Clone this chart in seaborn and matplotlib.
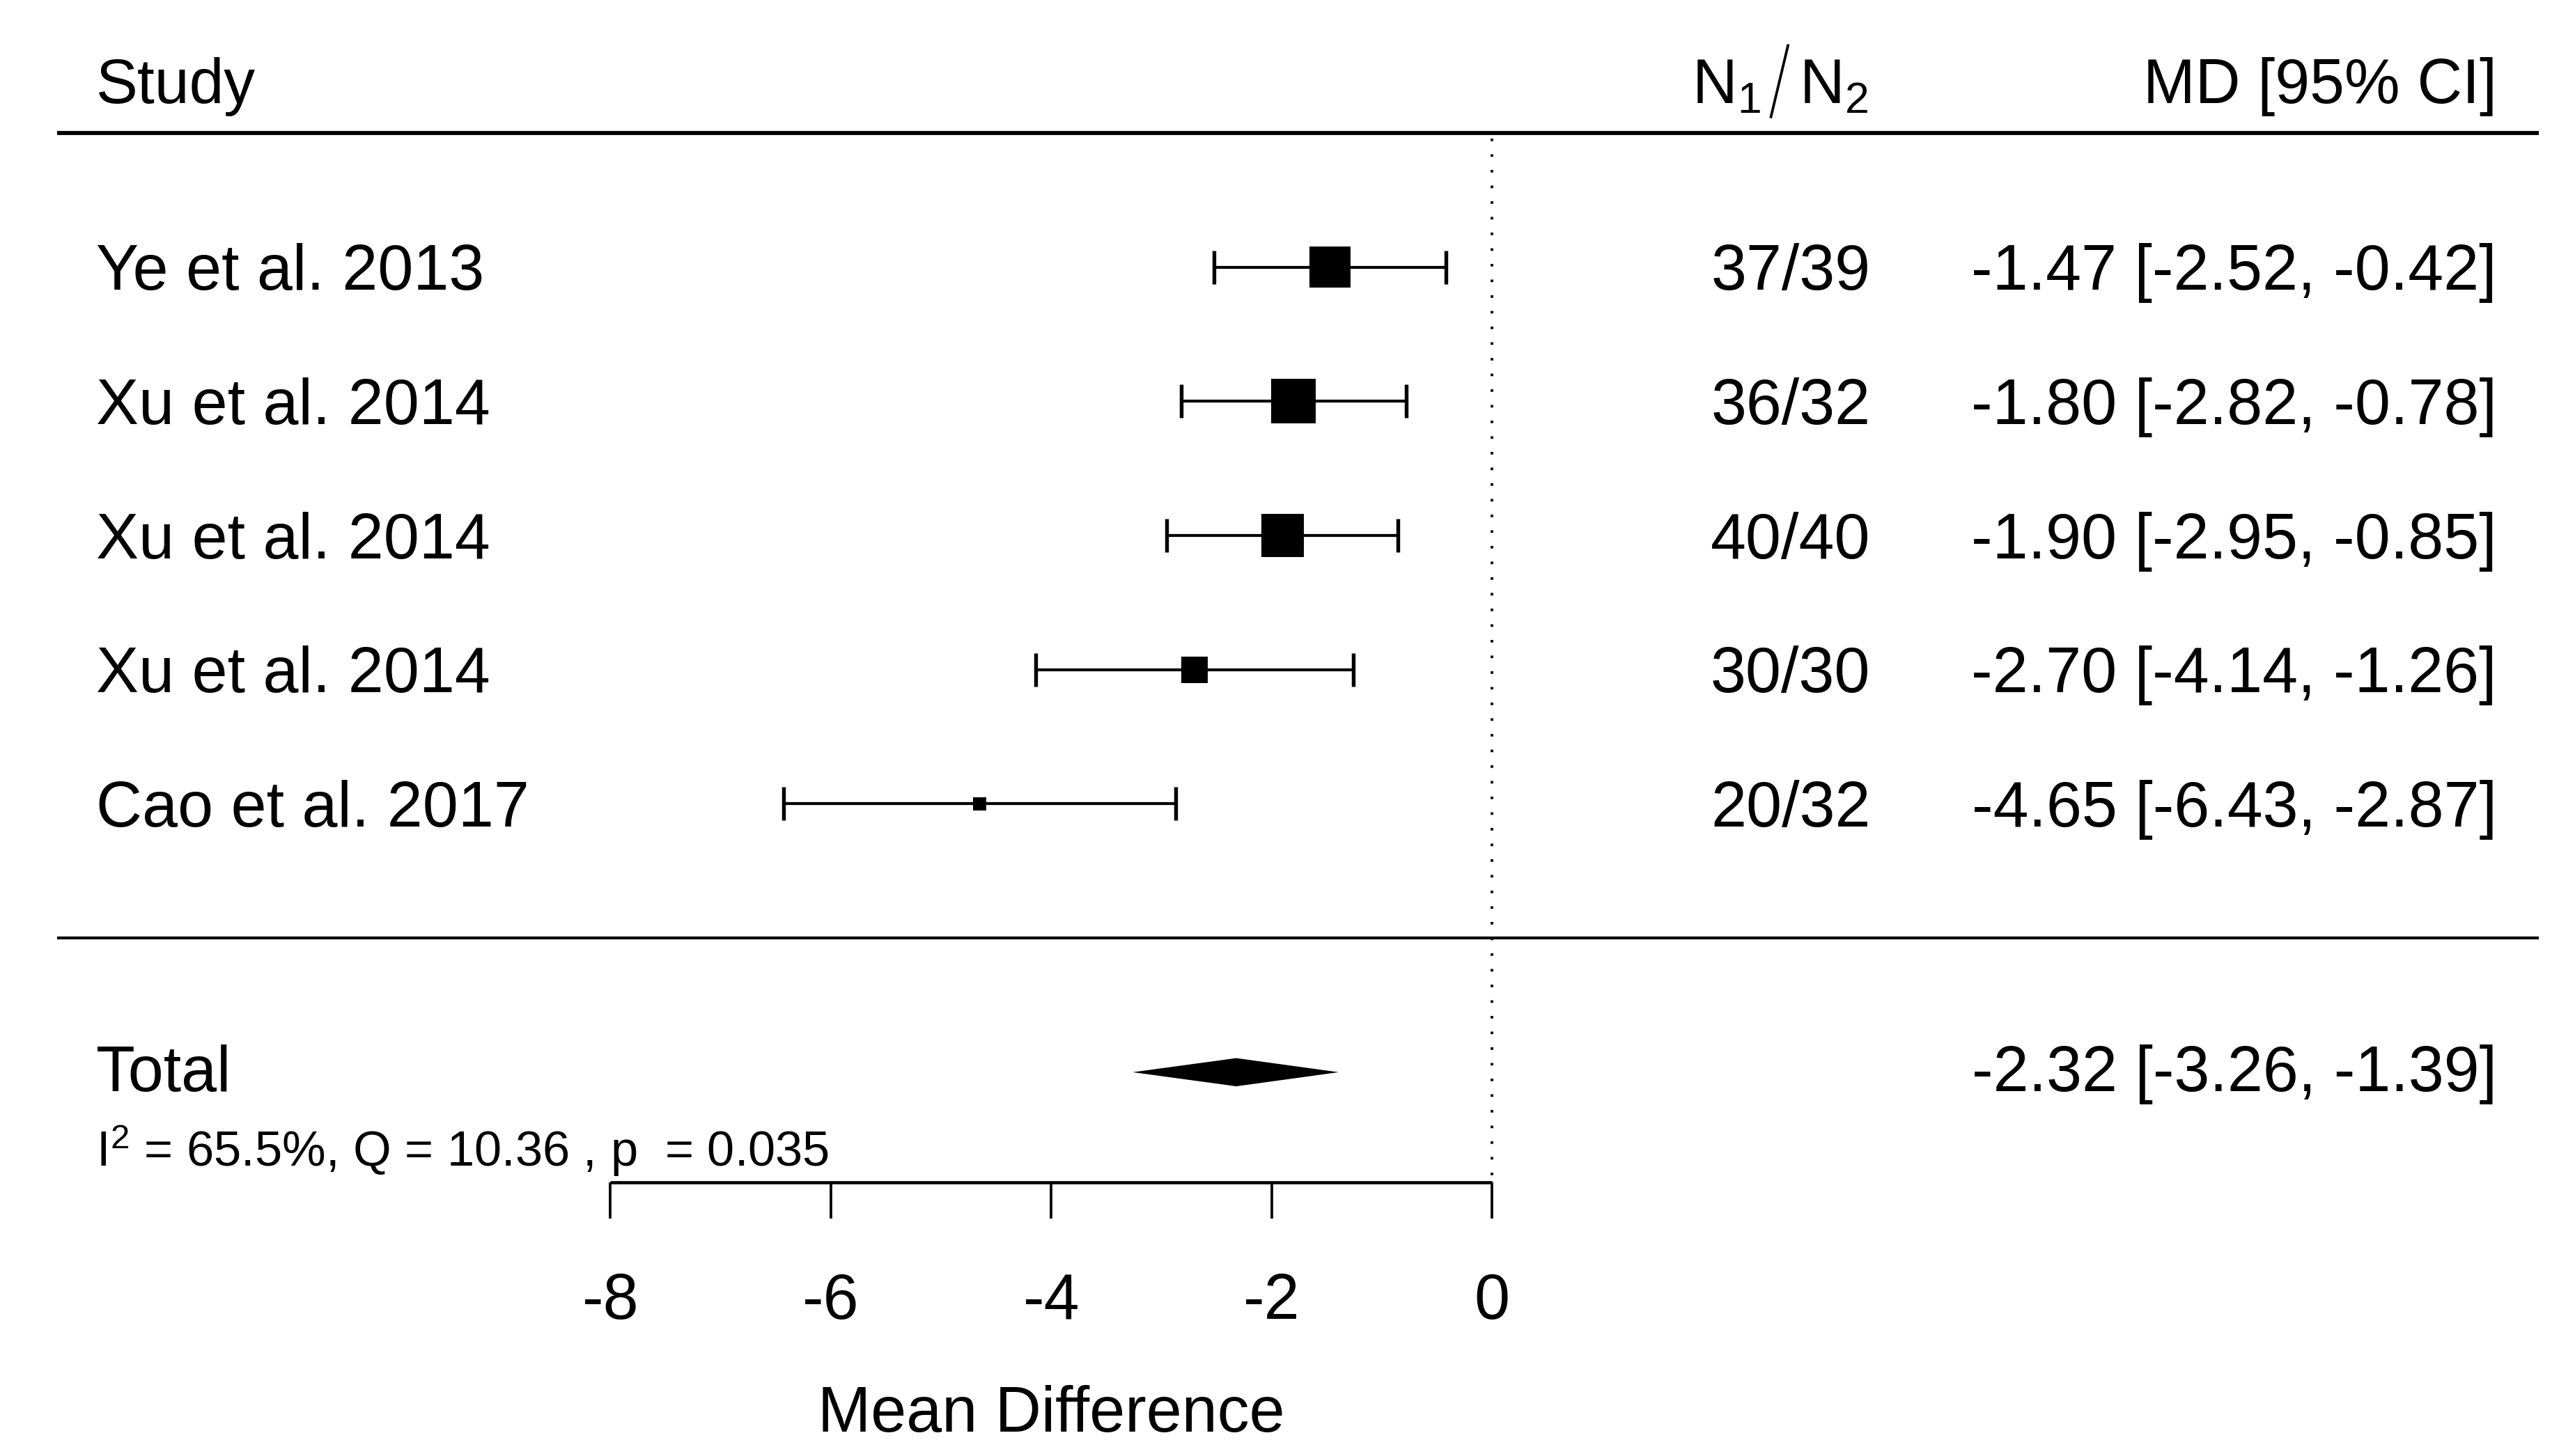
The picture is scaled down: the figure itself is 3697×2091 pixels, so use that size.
import seaborn as sns
import matplotlib.pyplot as plt
import pandas as pd

# data
studies = ["Ye et al. 2013", "Xu et al. 2014", "Xu et al. 2014", "Xu et al. 2014", "Cao et al. 2017"]
n_groups = ["37/39", "36/32", "40/40", "30/30", "20/32"]
md = [-1.47, -1.80, -1.90, -2.70, -4.65]
ci_low = [-2.52, -2.82, -2.95, -4.14, -6.43]
ci_high = [-0.42, -0.78, -0.85, -1.26, -2.87]
weights = [26.8, 30.7, 28.7, 10.9, 2.9]

total_md = -2.32
total_low = -3.26
total_high = -1.39
stats_text = r"I$^{\mathregular{2}}$ = 65.5%, Q = 10.36 , p  = 0.035"

x_ticks = [-8, -6, -4, -2, 0]

df = pd.DataFrame({
    "study": studies, "n": n_groups, "md": md,
    "low": ci_low, "high": ci_high, "weight": weights,
})
df["row"] = range(1, len(df) + 1)

sns.set_theme(style="white")
plt.rcParams["font.family"] = ["Liberation Sans", "DejaVu Sans"]
plt.rcParams["text.color"] = "black"
plt.rcParams["mathtext.fontset"] = "custom"
plt.rcParams["mathtext.rm"] = "Liberation Sans"
plt.rcParams["mathtext.it"] = "Liberation Sans:italic"

fig = plt.figure(figsize=(3697 / 300, 2091 / 300), dpi=300)
ax = fig.add_axes([0, 0, 1, 1])

# column positions (in mean-difference units)
x_study = -12.67
x_n = 2.71
x_md = 9.12
x_left, x_right = -13.02, 9.50
fs = 22
base = 0.17  # baseline offset so caps centre on the row

# CI lines with caps
ax.errorbar(df["md"], df["row"],
            xerr=[df["md"] - df["low"], df["high"] - df["md"]],
            fmt="none", ecolor="black", elinewidth=1.0,
            capsize=5.7, capthick=1.3)

# weighted squares
sns.scatterplot(data=df, x="md", y="row", size="weight",
                sizes=(0, 235), size_norm=(0, max(weights)),
                marker="s", color="black", linewidth=0,
                legend=False, ax=ax, zorder=3)

# summary diamond
total_row = 7.0
h = 0.105
ax.fill([total_low, total_md, total_high, total_md],
        [total_row, total_row - h, total_row, total_row + h],
        color="black", lw=0)

# rules and reference line
ax.hlines(0.0, x_left, x_right, color="black", lw=1.4)
ax.hlines(6.0, x_left, x_right, color="black", lw=1.0)
ax.vlines(0, 0.04, 7.82, color="black", lw=0.9, linestyles=(0, (1, 5)))

# x axis
ax.hlines(7.82, min(x_ticks), max(x_ticks), color="black", lw=1.1)
ax.vlines(x_ticks, 7.82, 8.09, color="black", lw=0.9)
for t in x_ticks:
    ax.text(t, 8.84, f"{t}", ha="center", va="baseline", fontsize=fs)
ax.text(-4, 9.68, "Mean Difference", ha="center", va="baseline", fontsize=fs)

# header
hy = -0.22
ax.text(x_study, hy, "Study", ha="left", va="baseline", fontsize=21.5)
ax.text(2.44, hy, r"N$_{\mathregular{1}}$", ha="right", va="baseline", fontsize=21.5)
ax.plot([2.53, 2.69], [-0.11, -0.66], color="black", lw=0.9,
        solid_capstyle="butt")  # tall fraction slash
ax.text(2.79, hy, r"N$_{\mathregular{2}}$", ha="left", va="baseline", fontsize=21.5)
ax.text(x_md, hy, "MD [95% CI]", ha="right", va="baseline", fontsize=21.5)

# study rows
for _, r in df.iterrows():
    y = r["row"] + base
    ax.text(x_study, y, r["study"], ha="left", va="baseline", fontsize=fs)
    ax.text(x_n, y, r["n"], ha="center", va="baseline", fontsize=fs)
    ax.text(x_md, y, f"{r['md']:.2f} [{r['low']:.2f}, {r['high']:.2f}]",
            ha="right", va="baseline", fontsize=fs)

# total row
ax.text(x_study, total_row + base - 0.03, "Total", ha="left", va="baseline", fontsize=fs)
ax.text(x_md, total_row + base - 0.03,
        f"{total_md:.2f} [{total_low:.2f}, {total_high:.2f}]",
        ha="right", va="baseline", fontsize=fs)
ax.text(x_study, 7.70, stats_text, ha="left", va="baseline", fontsize=16.9)

ax.set_xlim(-13.54, 9.83)
ax.set_ylim(9.86, -0.99)
ax.axis("off")

fig.savefig("out.png", dpi=300)
